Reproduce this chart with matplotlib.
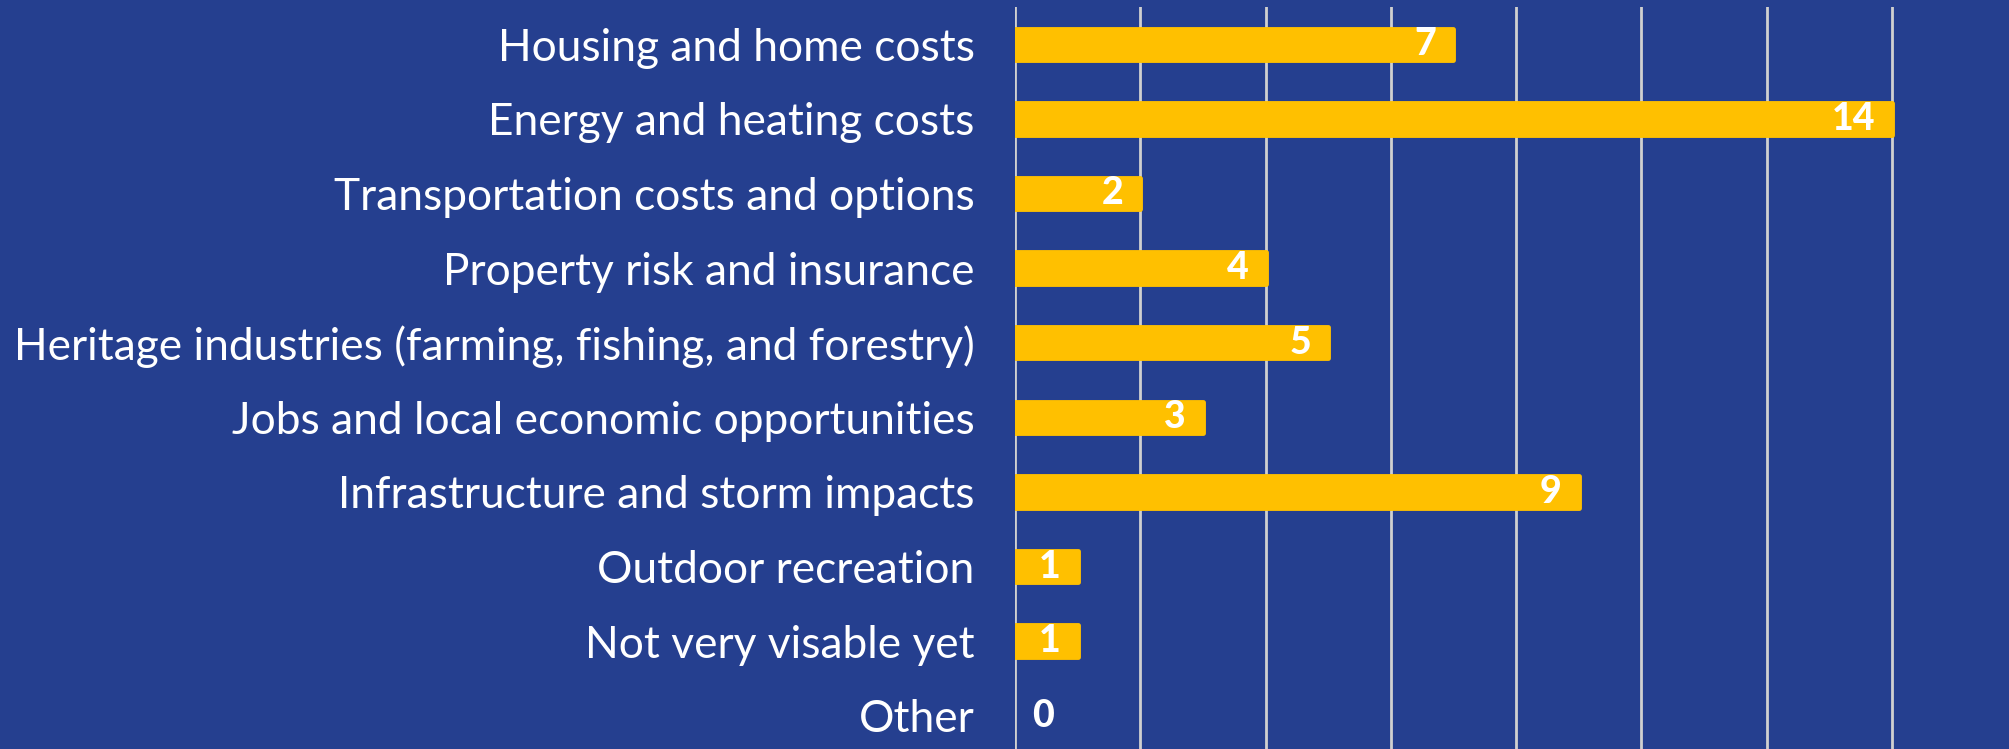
import matplotlib
matplotlib.use("Agg")
import matplotlib.pyplot as plt
import numpy as np

# data
categories = [
    "Housing and home costs",
    "Energy and heating costs",
    "Transportation costs and options",
    "Property risk and insurance",
    "Heritage industries (farming, fishing, and forestry)",
    "Jobs and local economic opportunities",
    "Infrastructure and storm impacts",
    "Outdoor recreation",
    "Not very visable yet",
    "Other",
]
counts = [7, 14, 2, 4, 5, 3, 9, 1, 1, 0]
grid_ticks = [0, 2, 4, 6, 8, 10, 12, 14]

bg = "#253f8f"
bar_col = "#ffc000"

plt.rcParams['font.family'] = ['Lato', 'DejaVu Sans']

fig = plt.figure(figsize=(20.09, 7.49), dpi=100, facecolor=bg)
ax = fig.add_axes([1015/2009, -4/749, 1 - 1015/2009, 746/749])
ax.set_facecolor(bg)

y = np.arange(len(categories))
# thin edge with round joins gives the slightly rounded bar ends
edges = [bar_col if v > 0 else 'none' for v in counts]
ax.barh(y, counts, height=0.42, color=bar_col, edgecolor=edges,
        linewidth=3.5, joinstyle='round', zorder=3)

ax.set_xlim(0, 15.87)
ax.set_ylim(len(categories) - 0.5, -0.5)
ax.set_xticks(grid_ticks)
ax.set_xticklabels([])
ax.tick_params(axis='x', length=0)
ax.grid(axis='x', color='#d0d0d0', linewidth=2, zorder=1)
ax.set_axisbelow(True)

ax.set_yticks(y)
ax.set_yticklabels(categories, fontsize=31.9, color='white', fontweight='normal')
ax.tick_params(axis='y', length=0, pad=29)

for s in ax.spines.values():
    s.set_visible(False)

# value labels: inside the bar end, or just right of the axis for zero
px = 72 / 100
for yi, v in zip(y, counts):
    if v > 0:
        ax.annotate(str(v), (v, yi), xytext=(-17 * px, 0), textcoords='offset points',
                    ha='right', va='center', color='white', fontsize=27,
                    fontweight='black', zorder=4)
    else:
        ax.annotate(str(v), (v, yi), xytext=(17 * px, 0), textcoords='offset points',
                    ha='left', va='center', color='white', fontsize=27,
                    fontweight='black', zorder=4)

fig.savefig("out.png", dpi=100, facecolor=bg)
